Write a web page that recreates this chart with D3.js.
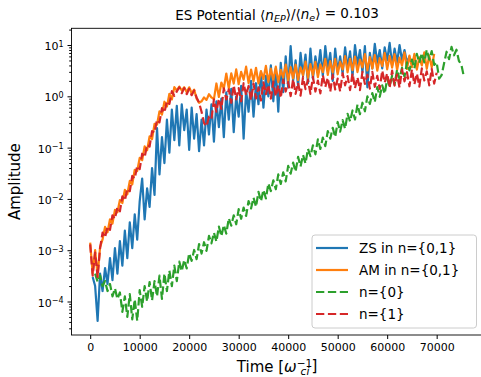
<!DOCTYPE html>
<html>
<head>
<meta charset="utf-8">
<script src="https://cdn.jsdelivr.net/npm/d3@7"></script>
<style>
  body { margin: 0; background: #fff; }
  text { font-family: "DejaVu Sans", sans-serif; fill: #000; }
</style>
</head>
<body>
<div id="chart"></div>
<script>
// tick values
var xTicks = [0, 10000, 20000, 30000, 40000, 50000, 60000, 70000];
var yTicks = [1e-4, 1e-3, 1e-2, 1e-1, 1, 10];

// sampling of the time traces (start time, step)
var sampleStep = 500;
var zsStart = 500, amStart = 0, n0Start = 1000, n1Start = 0;

// ZS in n={0,1}
var zsAmp = [3.0e-4, 2.0e-4, 4.2e-5, 3.5e-4, 1.6e-4, 4.5e-4, 2.2e-4, 7e-4, 2.6e-4, 1.1e-3,
  3.5e-4, 1.5e-3, 5e-4, 2.4e-3, 7e-4, 3.5e-3, 1.1e-3, 5e-3, 1.6e-3, 9e-3,
  2.5e-2, 4e-3, 1.6e-2, 7e-3, 4e-2, 1.2e-2, 0.24, 3.0e-2, 0.16, 5e-2,
  0.35, 8e-2, 0.55, 0.14, 0.65, 0.11, 0.7, 0.22, 0.55, 9e-2,
  0.6, 0.15, 0.45, 8.5e-2, 0.35, 0.11, 0.55, 0.18, 0.7, 0.13,
  0.8, 0.25, 0.9, 0.16, 1.2, 0.35, 1.4, 0.2, 1.0, 0.4,
  1.6, 0.15, 1.3, 0.5, 2.0, 0.4, 1.8, 0.7, 3.0, 0.6,
  2.5, 1.0, 4.0, 0.8, 3.5, 0.5, 4.5, 1.2, 6.0, 1.5,
  9.5, 2.0, 5.0, 1.6, 7.0, 2.5, 6.5, 1.8, 8.5, 2.2,
  6.0, 3.0, 8.0, 2.5, 9.5, 3.5, 7.0, 2.0, 8.5, 3.0,
  6.0, 2.8, 9.0, 3.5, 7.5, 2.5, 10.0, 4.0, 8.0, 3.0,
  9.5, 1.5, 7.0, 3.5, 10.5, 4.5, 8.0, 3.5, 9.0, 5.0,
  11.0, 4.0, 8.5, 4.5, 10.0, 5.0, 8.0, 4.5, 6.0];

// AM in n={0,1}
var amAmp = [1.4e-3, 3.5e-4, 1.0e-3, 3.2e-4, 1.15e-3,
  1.62e-3, 2.85e-3, 2.24e-3, 4.0e-3, 3.3e-3, 6.1e-3, 5.5e-3, 9.5e-3, 8.3e-3, 1.5e-2,
  1.23e-2, 2.24e-2, 1.93e-2, 3.7e-2, 3.5e-2, 6.3e-2, 5.65e-2, 0.106, 8.9e-2, 0.166,
  0.146, 0.29, 0.28, 0.51, 0.44, 0.785, 0.63, 1.12, 0.87, 1.51,
  1.3, 1.55, 1.3, 1.5, 1.2, 1.5, 1.15, 1.35, 0.9, 0.75, 0.8, 0.95, 0.85, 1.1, 0.95,
  0.88, 1.78, 0.97, 1.86, 1.42, 2.78, 1.43, 2.8, 1.77, 3.36,
  1.72, 3.01, 2.1, 3.8, 1.81, 3.32, 1.97, 3.6, 1.78, 3.11,
  2.17, 3.93, 1.89, 3.46, 2.06, 3.78, 1.88, 3.29, 2.3, 4.17,
  2.0, 3.7, 2.23, 4.13, 2.07, 3.66, 2.58, 4.73, 2.29, 4.23,
  2.54, 4.7, 2.36, 4.18, 2.95, 5.4, 2.61, 4.84, 2.91, 5.38,
  2.69, 4.74, 3.33, 6.08, 2.93, 5.4, 3.23, 5.95, 2.97, 5.22,
  3.67, 6.65, 3.19, 5.84, 3.48, 6.37, 3.16, 5.53, 3.87, 7.0,
  3.36, 6.12, 3.63, 6.62, 3.27, 5.7, 3.97, 7.16, 3.41, 6.23,
  3.69, 6.72, 3.31, 5.76, 4.0, 7.2, 3.43, 6.24, 3.69, 6.72];

// n={0}
var n0Amp = [3.5e-4, 2.4e-4, 3.2e-4, 2.0e-4, 2.5e-4, 1.6e-4, 2.2e-4, 1.26e-4, 1.8e-4, 1.12e-4,
  1.5e-4, 6.3e-5, 1.26e-4, 5.0e-5, 1.4e-4, 4.5e-5, 1.1e-4, 4.2e-5, 1.66e-4, 7.9e-5,
  2.0e-4, 1.0e-4, 2.4e-4, 1.05e-4, 2.5e-4, 1.26e-4, 3.2e-4, 1.12e-4, 3.5e-4, 1.6e-4,
  4.0e-4, 2.0e-4, 5.0e-4, 2.5e-4,
  6.0e-4, 3.9e-4, 6.5e-4, 4.4e-4, 8.7e-4, 6.2e-4, 1.01e-3, 6.7e-4, 1.32e-3, 8.6e-4,
  1.43e-3, 9.7e-4, 1.9e-3, 1.36e-3, 2.2e-3, 1.47e-3, 2.9e-3, 1.87e-3, 3.1e-3, 2.1e-3,
  4.2e-3, 3.0e-3, 4.8e-3, 3.2e-3, 6.3e-3, 4.1e-3, 6.8e-3, 4.65e-3, 9.1e-3, 6.5e-3,
  1.06e-2, 7.0e-3, 1.38e-2, 9.0e-3, 1.5e-2, 1.02e-2, 2.0e-2, 1.42e-2, 2.3e-2, 1.54e-2,
  3.0e-2, 1.96e-2, 3.3e-2, 2.2e-2, 4.4e-2, 3.1e-2, 5.1e-2, 3.4e-2, 6.6e-2, 4.3e-2,
  7.2e-2, 4.9e-2, 9.5e-2, 6.8e-2, 0.111, 7.4e-2, 0.145, 9.4e-2, 0.157, 0.107,
  0.209, 0.149, 0.243, 0.161, 0.316, 0.205, 0.343, 0.233, 0.457, 0.325,
  0.53, 0.353, 0.69, 0.449, 0.75, 0.51, 1.0, 0.71, 1.16, 0.77,
  1.51, 0.98, 1.64, 1.12, 2.19, 1.56, 2.54, 1.69, 3.31, 2.15, 3.59,
  2.4, 4.6, 3.2, 5.2, 3.5, 6.7, 4.5, 7.0, 4.6, 8.1,
  5.2, 7.6, 4.1, 4.6, 2.2, 2.6, 4.4, 7.4, 5.3, 9.2,
  6.3, 8.1, 4.9, 4.1, 2.4];

// n={1}
var n1Amp = [1.3e-3, 3.2e-4, 9e-4, 3.0e-4, 1.1e-3,
  2.2e-3, 1.76e-3, 2.9e-3, 2.5e-3, 4.8e-3, 4.1e-3, 6.9e-3, 5.75e-3, 1.12e-2, 9.3e-3,
  1.58e-2, 1.41e-2, 2.8e-2, 2.5e-2, 4.4e-2, 3.8e-2, 7.6e-2, 6.5e-2, 0.114, 0.105,
  0.21, 0.195, 0.35, 0.31, 0.59, 0.48, 0.81, 0.71, 1.26, 1.02,
  1.25, 1.5, 1.15, 1.45, 1.1, 1.4, 1.05, 1.3, 0.95, 0.75, 0.5, 0.3, 0.26, 0.4, 0.36,
  0.87, 0.5, 0.9, 0.57, 1.43, 0.87, 1.37, 0.75, 1.64, 0.87,
  1.44, 0.8, 1.8, 1.05, 1.59, 0.84, 1.78, 0.91, 1.49, 0.83,
  1.88, 1.1, 1.68, 0.9, 1.93, 1.0, 1.64, 0.93, 2.1, 1.24,
  1.89, 1.01, 2.16, 1.12, 1.84, 1.03, 2.36, 1.38, 2.09, 1.12,
  2.39, 1.24, 2.03, 1.14, 2.6, 1.52, 2.3, 1.23, 2.62, 1.36,
  2.22, 1.24, 2.82, 1.64, 2.48, 1.32, 2.81, 1.44, 2.36, 1.32,
  3.0, 1.75, 2.64, 1.41, 2.99, 1.53, 2.51, 1.4, 3.18, 1.85,
  2.8, 1.49, 3.16, 1.62, 2.65, 1.48, 3.36, 1.96, 2.95, 1.57,
  3.34, 1.71, 2.78, 1.55, 3.51, 2.04, 3.07, 1.63, 3.45, 1.77, 2.88];

var legendLabels = ["ZS in n={0,1}", "AM in n={0,1}", "n={0}", "n={1}"];
var colors = ["#1f77b4", "#ff7f0e", "#2ca02c", "#d62728"];

// dimensions (right spine falls just outside the picture)
var W = 481, H = 377;
var axL = 71.5, axR = 482.7, axT = 28.3, axB = 335;

var svg = d3.select("#chart")
  .append("svg")
  .attr("width", W)
  .attr("height", H);

// scales
var x = d3.scaleLinear()
  .domain([-3776, 79300])
  .range([axL, axR]);
var y = d3.scaleLog()
  .domain([Math.pow(10, -4.653), Math.pow(10, 1.326)])
  .range([axB, axT]);

// clip to the axes box
svg.append("clipPath")
  .attr("id", "clip")
  .append("rect")
  .attr("x", axL).attr("y", axT)
  .attr("width", axR - axL).attr("height", axB - axT);

// build series
function toPoints(start, amps) {
  return amps.map(function (a, i) { return [start + i * sampleStep, a]; });
}
var series = [
  { pts: toPoints(zsStart, zsAmp), dash: null },
  { pts: toPoints(amStart, amAmp), dash: null },
  { pts: toPoints(n0Start, n0Amp), dash: "8.3,3.6" },
  { pts: toPoints(n1Start, n1Amp), dash: "8.3,3.6" }
];

var line = d3.line()
  .x(function (d) { return x(d[0]); })
  .y(function (d) { return y(d[1]); });

svg.append("g")
  .attr("clip-path", "url(#clip)")
  .selectAll("path")
  .data(series)
  .enter()
  .append("path")
  .attr("d", function (d) { return line(d.pts); })
  .attr("fill", "none")
  .attr("stroke", function (d, i) { return colors[i]; })
  .attr("stroke-width", 2.2)
  .attr("stroke-linejoin", "round")
  .attr("stroke-dasharray", function (d) { return d.dash; });

// x axis
var xAxis = svg.append("g")
  .attr("transform", "translate(0," + axB + ")")
  .call(d3.axisBottom(x).tickValues(xTicks).tickSize(4).tickPadding(4).tickSizeOuter(0)
    .tickFormat(d3.format("d")));
xAxis.select(".domain").remove();
xAxis.selectAll("text").style("font-size", "11px");

// y axis, major ticks with 10^n labels
var yAxis = svg.append("g")
  .attr("transform", "translate(" + axL + ",0)")
  .call(d3.axisLeft(y).tickValues(yTicks).tickSize(4).tickPadding(4).tickSizeOuter(0)
    .tickFormat(""));
yAxis.select(".domain").remove();
yAxis.selectAll(".tick text")
  .style("font-size", "11px")
  .attr("dy", "0.42em")
  .each(function (d) {
    var e = Math.round(Math.log10(d));
    var t = d3.select(this);
    t.append("tspan").text("10");
    t.append("tspan")
      .attr("dy", "-0.45em")
      .style("font-size", "8px")
      .text(String(e).replace("-", "\u2212"));
  });

// y minor ticks
var minors = [];
for (var p = -5; p <= 1; p++) {
  for (var m = 2; m <= 9; m++) {
    var v = m * Math.pow(10, p);
    if (v > y.domain()[0] && v < y.domain()[1]) minors.push(v);
  }
}
var yMinor = svg.append("g")
  .attr("transform", "translate(" + axL + ",0)")
  .call(d3.axisLeft(y).tickValues(minors).tickSize(2.3).tickSizeOuter(0).tickFormat(""));
yMinor.select(".domain").remove();

// spines
svg.append("rect")
  .attr("x", axL).attr("y", axT)
  .attr("width", axR - axL).attr("height", axB - axT)
  .attr("fill", "none")
  .attr("stroke", "#000")
  .attr("stroke-width", 0.9);

// title
var title = svg.append("text")
  .attr("x", (axL + axR) / 2)
  .attr("y", 20)
  .attr("text-anchor", "middle")
  .style("font-size", "13.5px");
title.append("tspan").text("ES Potential \u27e8");
title.append("tspan").style("font-style", "italic").text("n");
title.append("tspan").attr("dy", "0.25em").style("font-size", "9.5px").style("font-style", "italic").text("EP");
title.append("tspan").attr("dy", "-0.25em").text("\u27e9/\u27e8");
title.append("tspan").style("font-style", "italic").text("n");
title.append("tspan").attr("dy", "0.25em").style("font-size", "9.5px").style("font-style", "italic").text("e");
title.append("tspan").attr("dy", "-0.25em").text("\u27e9 = 0.103");

// axis labels
var xl = svg.append("text")
  .attr("x", (axL + axR) / 2)
  .attr("y", 372)
  .attr("text-anchor", "middle")
  .style("font-size", "15px");
xl.append("tspan").text("Time [");
xl.append("tspan").style("font-style", "italic").text("\u03c9");
xl.append("tspan").attr("dy", "-0.45em").style("font-size", "10.5px").text("\u22121");
xl.append("tspan").attr("dx", "-1.1em").attr("dy", "0.75em").style("font-size", "10.5px").style("font-style", "italic").text("ci");
xl.append("tspan").attr("dx", "0.15em").attr("dy", "-0.3em").text("]");

svg.append("text")
  .attr("transform", "translate(20," + ((axT + axB) / 2) + ") rotate(-90)")
  .attr("text-anchor", "middle")
  .style("font-size", "15px")
  .text("Amplitude");

// legend
var legend = svg.append("g");
legend.append("rect")
  .attr("x", 312).attr("y", 235)
  .attr("width", 164.5).attr("height", 93)
  .attr("rx", 3)
  .attr("fill", "#fff")
  .attr("fill-opacity", 0.8)
  .attr("stroke", "#cccccc")
  .attr("stroke-width", 1);

var rows = legend.selectAll(".row")
  .data(legendLabels)
  .enter()
  .append("g")
  .attr("transform", function (d, i) { return "translate(0," + (248 + i * 22) + ")"; });
rows.append("line")
  .attr("x1", 316).attr("x2", 348)
  .attr("y1", 0).attr("y2", 0)
  .attr("stroke", function (d, i) { return colors[i]; })
  .attr("stroke-width", 2.2)
  .attr("stroke-dasharray", function (d, i) { return series[i].dash; });
rows.append("text")
  .attr("x", 359)
  .attr("y", 0)
  .attr("dy", "0.36em")
  .style("font-size", "13.5px")
  .text(function (d) { return d; });
</script>
</body>
</html>
